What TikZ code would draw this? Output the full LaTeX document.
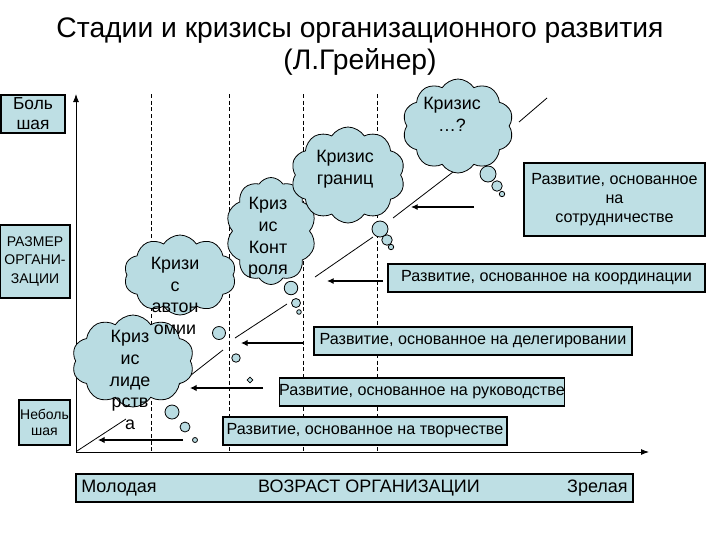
\documentclass[tikz,border=0pt]{standalone}
\usepackage{fontspec}
\setmainfont{Liberation Sans}
\usetikzlibrary{shapes.symbols,shapes.geometric,arrows.meta}
\definecolor{lb}{RGB}{190,223,228}
\definecolor{cl}{RGB}{185,220,226}
\def\u{0.75pt}
\tikzset{
  cloudsh/.style={draw=black, line width=0.6pt, fill=cl, cloud, cloud puffs=10, cloud puff arc=115, cloud ignores aspect, inner sep=0pt},
  bub/.style={draw=black, line width=0.6pt, fill=cl, circle, inner sep=0pt},
  ctext/.style={align=center, inner sep=0pt, font=\fontsize{13.4}{16.3}\selectfont},
  box/.style={draw=black, line width=0.8pt, fill=lb, inner sep=0pt, align=center, font=\fontsize{12.1}{14.25}\selectfont},
  lbox/.style={draw=black, line width=0.8pt, fill=lb, inner sep=0pt, align=center},
  dashv/.style={line width=0.6pt, dash pattern=on 3pt off 2pt},
  axis/.style={line width=0.7pt, -{Latex[length=6pt,width=4.5pt]}},
  diag/.style={line width=0.6pt},
  thickarr/.style={line width=1.6pt, -{Latex[length=5pt,width=5pt]}},
  thinarr/.style={line width=0.8pt, -{Latex[length=5pt,width=4.5pt]}},
}
\begin{document}
\begin{tikzpicture}[x=0.75pt,y=-0.75pt]
\useasboundingbox (0,0) rectangle (720,540);
% title
\node[anchor=base, inner sep=0pt, font=\fontsize{21.2}{25}\selectfont] (t1) at (360,37) {Стадии и кризисы организационного развития};
\node[anchor=base, inner sep=0pt, font=\fontsize{21.2}{25}\selectfont] (t2) at (360,69) {(Л.Грейнер)};
% dashed verticals
\foreach \xx/\nm in {151/d1,229/d2,303/d3,377/d4}{
  \coordinate (\nm t) at (\xx,94);
  \coordinate (\nm b) at (\xx,452);
  \draw[dashv] (\nm t) -- (\nm b);
}
% axes
\coordinate (O) at (76,452);
\coordinate (Ytop) at (76,94);
\coordinate (Xend) at (649,452);
\draw[axis] (O) -- (Ytop);
\draw[axis] (O) -- (Xend);
% diagonal segments
\coordinate (g1a) at (77,451); \coordinate (g1b) at (126,419);
\coordinate (g2a) at (168,393); \coordinate (g2b) at (223,350);
\coordinate (g3a) at (235,338); \coordinate (g3b) at (287,304);
\coordinate (g4a) at (315,277); \coordinate (g4b) at (373,237);
\coordinate (g5a) at (393,218); \coordinate (g5b) at (453,172);
\coordinate (g6a) at (519,122); \coordinate (g6b) at (547,98);
\draw[diag] (g1a) -- (g1b);
\draw[diag] (g2a) -- (g2b);
\draw[diag] (g3a) -- (g3b);
\draw[diag] (g4a) -- (g4b);
\draw[diag] (g5a) -- (g5b);
\draw[diag] (g6a) -- (g6b);
% clouds
\node[cloudsh, minimum width=122*\u, minimum height=92*\u] (c1) at (133,361) {};
\node[bub, minimum size=14*\u] (c1a) at (172,412) {};
\node[bub, minimum size=10*\u] (c1b) at (185,427) {};
\node[bub, minimum size=5*\u] (c1c) at (195,440) {};
\node[cloudsh, minimum width=112*\u, minimum height=80*\u] (c2) at (180,275) {};
\node[bub, minimum size=13*\u] (c2a) at (219,333) {};
\node[bub, minimum size=8.5*\u] (c2b) at (236,358) {};
\node[draw=black, line width=0.5pt, fill=cl, diamond, inner sep=0pt, minimum size=6*\u, shape aspect=1] (c2c) at (250,380) {};
\node[cloudsh, minimum width=90*\u, minimum height=107*\u] (c3) at (271,231) {};
\node[bub, minimum size=13.5*\u] (c3a) at (291,288) {};
\node[bub, minimum size=9*\u] (c3b) at (296,303) {};
\node[bub, minimum size=4.6*\u] (c3c) at (299,312) {};
\node[cloudsh, minimum width=114*\u, minimum height=96*\u] (c4) at (348,175) {};
\node[bub, minimum size=16*\u] (c4a) at (380,229) {};
\node[bub, minimum size=10.5*\u] (c4b) at (387,240) {};
\node[bub, minimum size=5.4*\u] (c4c) at (391,247) {};
\node[cloudsh, minimum width=111*\u, minimum height=94*\u] (c5) at (458,126) {};
\node[bub, minimum size=16*\u] (c5a) at (488,174) {};
\node[bub, minimum size=10.5*\u] (c5b) at (497,186) {};
\node[bub, minimum size=5.4*\u] (c5c) at (502,194) {};
% cloud texts
\node[ctext] (tx1) at (130,380) {Криз\\ис\\лиде\\рств\\а};
\node[ctext] (tx2) at (175,296) {Кризи\\с\\автон\\омии};
\node[ctext] (tx3) at (268,238) {Криз\\ис\\Конт\\роля};
\node[ctext] (tx4) at (345,169) {Кризис\\границ};
\node[ctext] (tx5) at (452,114) {Кризис\\…?};
% left labels
\node[lbox, minimum width=64*\u, minimum height=38*\u, font=\fontsize{13}{15}\selectfont] (big) at (33,114) {Боль\\шая};
\node[lbox, minimum width=70*\u, minimum height=73*\u, font=\fontsize{10.5}{13.9}\selectfont] (size) at (35,261.5) {РАЗМЕР\\ОРГАНИ-\\ЗАЦИИ};
\node[lbox, minimum width=51*\u, minimum height=45*\u, font=\fontsize{10.5}{12.4}\selectfont] (small) at (44.5,422.5) {Неболь\\шая};
% development boxes
\node[box, minimum width=181*\u, minimum height=73*\u] (coop) at (614.5,199.5) {Развитие, основанное\\на\\сотрудничестве};
\node[box, minimum width=317*\u, minimum height=28*\u] (coord) at (546.5,278) {Развитие, основанное на координации};
\node[box, minimum width=318*\u, minimum height=28*\u] (deleg) at (473,341) {Развитие, основанное на делегировании};
\node[box, minimum width=284*\u, minimum height=28*\u] (lead) at (422,392) {Развитие, основанное на руководстве};
\node[box, minimum width=284*\u, minimum height=28*\u] (creat) at (365,431) {Развитие, основанное на творчестве};
% arrows
\coordinate (a1s) at (183,440); \coordinate (a1e) at (98,440);
\coordinate (a2s) at (263,388); \coordinate (a2e) at (190,388);
\coordinate (a3s) at (303,343); \coordinate (a3e) at (241,343);
\coordinate (a4s) at (383,281); \coordinate (a4e) at (327,281);
\coordinate (a5s) at (474,207); \coordinate (a5e) at (411,207);
\draw[thickarr] (a1s) -- (a1e);
\draw[thickarr] (a2s) -- (a2e);
\draw[thickarr] (a3s) -- (a3e);
\draw[thinarr] (a4s) -- (a4e);
\draw[thinarr] (a5s) -- (a5e);
% bottom box
\node[lbox, minimum width=557*\u, minimum height=28*\u] (age) at (354.5,488) {};
\node[anchor=west, inner sep=0pt, font=\fontsize{13.5}{16}\selectfont] (young) at (81,488) {Молодая};
\node[inner sep=0pt, font=\fontsize{13.5}{16}\selectfont] (agetxt) at (369,488) {ВОЗРАСТ ОРГАНИЗАЦИИ};
\node[anchor=east, inner sep=0pt, font=\fontsize{13.5}{16}\selectfont] (mature) at (628,488) {Зрелая};
\end{tikzpicture}
\end{document}
